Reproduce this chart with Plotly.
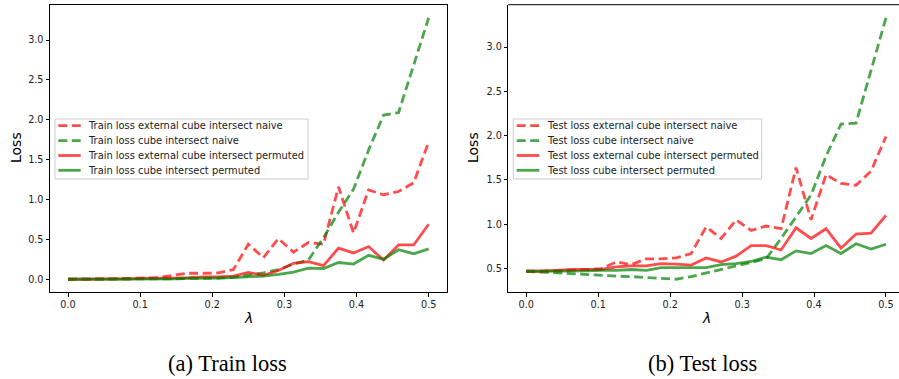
import plotly.graph_objects as go

# lambda grid (25 points from 0 to 0.5)
lam = [0.0, 0.0208, 0.0417, 0.0625, 0.0833, 0.1042, 0.125, 0.1458, 0.1667, 0.1875,
       0.2083, 0.2292, 0.25, 0.2708, 0.2917, 0.3125, 0.3333, 0.3542, 0.375, 0.3958,
       0.4167, 0.4375, 0.4583, 0.4792, 0.5]

train_ext_naive = [0.0, 0.0, 0.0, 0.005, 0.01, 0.012, 0.02, 0.05, 0.075, 0.075, 0.08, 0.12,
                   0.44, 0.27, 0.51, 0.34, 0.46, 0.44, 1.16, 0.58, 1.12, 1.06, 1.10, 1.21, 1.72]
train_cube_naive = [0.0, 0.0, 0.0, 0.0, 0.0, 0.0, 0.005, 0.005, 0.01, 0.01, 0.015, 0.025,
                    0.05, 0.08, 0.12, 0.19, 0.24, 0.52, 0.84, 1.13, 1.62, 2.06, 2.09, 2.69, 3.28]
train_ext_perm = [0.0, 0.0, 0.0, 0.0, 0.005, 0.01, 0.01, 0.015, 0.02, 0.03, 0.03, 0.04,
                  0.085, 0.05, 0.11, 0.2, 0.22, 0.17, 0.39, 0.33, 0.41, 0.24, 0.43, 0.43, 0.69]
train_cube_perm = [0.0, 0.0, 0.0, 0.0, 0.0, 0.0, 0.0, 0.005, 0.01, 0.01, 0.015, 0.02,
                   0.03, 0.04, 0.06, 0.09, 0.14, 0.135, 0.21, 0.19, 0.30, 0.25, 0.37, 0.32, 0.38]

test_ext_naive = [0.47, 0.47, 0.475, 0.48, 0.49, 0.50, 0.575, 0.545, 0.61, 0.61, 0.62, 0.67,
                  0.97, 0.84, 1.05, 0.93, 0.98, 0.95, 1.64, 1.05, 1.56, 1.46, 1.44, 1.60, 1.99]
test_cube_naive = [0.47, 0.46, 0.45, 0.44, 0.43, 0.42, 0.415, 0.41, 0.40, 0.39, 0.38, 0.41,
                   0.45, 0.49, 0.53, 0.57, 0.61, 0.84, 1.08, 1.33, 1.77, 2.13, 2.14, 2.73, 3.33]
test_ext_perm = [0.47, 0.47, 0.48, 0.49, 0.49, 0.49, 0.52, 0.53, 0.53, 0.555, 0.55, 0.54,
                 0.62, 0.575, 0.64, 0.76, 0.76, 0.71, 0.96, 0.84, 0.95, 0.73, 0.89, 0.90, 1.10]
test_cube_perm = [0.47, 0.47, 0.47, 0.475, 0.475, 0.48, 0.48, 0.49, 0.48, 0.51, 0.51, 0.515,
                  0.51, 0.545, 0.555, 0.58, 0.63, 0.60, 0.70, 0.67, 0.76, 0.67, 0.78, 0.72, 0.775]

train_names = ["Train loss external cube intersect naive", "Train loss cube intersect naive",
               "Train loss external cube intersect permuted", "Train loss cube intersect permuted"]
test_names = ["Test loss external cube intersect naive", "Test loss cube intersect naive",
              "Test loss external cube intersect permuted", "Test loss cube intersect permuted"]

x_ticks = [0.0, 0.1, 0.2, 0.3, 0.4, 0.5]
x_tick_labels = ["0.0", "0.1", "0.2", "0.3", "0.4", "0.5"]
train_y_ticks = [0.0, 0.5, 1.0, 1.5, 2.0, 2.5, 3.0]
test_y_ticks = [0.5, 1.0, 1.5, 2.0, 2.5, 3.0]

RED = "rgba(255,0,0,0.7)"
GREEN = "rgba(0,128,0,0.7)"
LW = 2.8
DASH = "9px,4.5px"
STYLES = [(RED, DASH), (GREEN, DASH), (RED, "solid"), (GREEN, "solid")]
W, H = 899, 379

fig = go.Figure()

def add_set(series, names, xa, ya):
    for ys, nm, (c, d) in zip(series, names, STYLES):
        fig.add_trace(go.Scatter(x=lam, y=ys, mode="lines", name=nm, xaxis=xa, yaxis=ya,
                                 showlegend=False,
                                 line=dict(color=c, width=LW, dash=d)))

add_set([train_ext_naive, train_cube_naive, train_ext_perm, train_cube_perm], train_names, "x", "y")
add_set([test_ext_naive, test_cube_naive, test_ext_perm, test_cube_perm], test_names, "x2", "y2")

def yr(*arrs):
    lo = min(min(a) for a in arrs)
    hi = max(max(a) for a in arrs)
    pad = (hi - lo) * 0.05
    return [lo - pad, hi + pad]

tickfont = dict(family="DejaVu Sans", size=9.7, color="#222")
ax_common = dict(showgrid=False, zeroline=False, showline=True, linecolor="black",
                 linewidth=1, ticks="outside", ticklen=3.5, tickwidth=0.8, tickcolor="black",
                 tickfont=tickfont, automargin=False)

top = 1 - 4.7 / H
bot = 1 - 292.3 / H

fig.update_layout(
    width=W, height=H, margin=dict(l=0, r=0, t=0, b=0),
    paper_bgcolor="white", plot_bgcolor="white", showlegend=False,
    xaxis=dict(domain=[50 / W, 446.7 / W], range=[-0.025, 0.525], tickvals=x_ticks,
               ticktext=x_tick_labels, mirror=True, anchor="y", **ax_common),
    yaxis=dict(domain=[bot, top], range=yr(train_ext_naive, train_cube_naive, train_ext_perm, train_cube_perm),
               tickvals=train_y_ticks, ticktext=[f"{v:.1f}" for v in train_y_ticks],
               mirror=True, anchor="x", **ax_common),
    xaxis2=dict(domain=[508.3 / W, 1.0], range=[-0.025, 0.5 + 13 / 718.6], tickvals=x_ticks,
                ticktext=x_tick_labels, mirror=False, anchor="y2", **ax_common),
    yaxis2=dict(domain=[bot, top], range=yr(test_ext_naive, test_cube_naive, test_ext_perm, test_cube_perm),
                tickvals=test_y_ticks, ticktext=[f"{v:.1f}" for v in test_y_ticks],
                mirror=False, anchor="x2", **ax_common),
)

shapes = []
ann = []

def px(x):
    return x / W

def py(y):
    return 1 - y / H

# top spine for right plot (right spine is cut off by the canvas)
shapes.append(dict(type="line", xref="paper", yref="paper", x0=px(508.3), x1=1.0,
                   y0=top, y1=top, line=dict(color="black", width=1)))

def legend_box(x0, x1, line_x0, line_x1, text_x, names):
    shapes.append(dict(type="rect", xref="paper", yref="paper", x0=px(x0), x1=px(x1),
                       y0=py(119), y1=py(179), fillcolor="rgba(255,255,255,0.8)",
                       line=dict(color="#cccccc", width=1), layer="above"))
    ys = [125.7, 140.6, 155.5, 170.3]
    for yy, nm, (c, d) in zip(ys, names, STYLES):
        shapes.append(dict(type="line", xref="paper", yref="paper", x0=px(line_x0), x1=px(line_x1),
                           y0=py(yy), y1=py(yy), line=dict(color=c, width=LW, dash=d),
                           layer="above"))
        ann.append(dict(x=px(text_x), y=py(yy), xref="paper", yref="paper", text=nm,
                        showarrow=False, xanchor="left", yanchor="middle",
                        font=dict(family="DejaVu Sans", size=9.9, color="#222")))

legend_box(55, 308, 58.3, 80.7, 85.5, train_names)
legend_box(513.3, 761.7, 516.7, 539.3, 544.8, test_names)

def txt(x, y, s, size, family, angle=0):
    ann.append(dict(x=px(x), y=py(y), xref="paper", yref="paper", text=s, showarrow=False,
                    font=dict(family=family, size=size, color="black"), textangle=angle,
                    xanchor="center", yanchor="middle"))

txt(16, 148, "Loss", 14, "DejaVu Sans", -90)
txt(473, 148, "Loss", 14, "DejaVu Sans", -90)
txt(248, 318, "<i>λ</i>", 14, "DejaVu Sans")
txt(706, 318, "<i>λ</i>", 14, "DejaVu Sans")
txt(227, 363, "(a) Train loss", 22.5, "Liberation Serif")
txt(702, 363, "(b) Test loss", 22.5, "Liberation Serif")

fig.update_layout(shapes=shapes, annotations=ann)

fig.write_html("out.html")
